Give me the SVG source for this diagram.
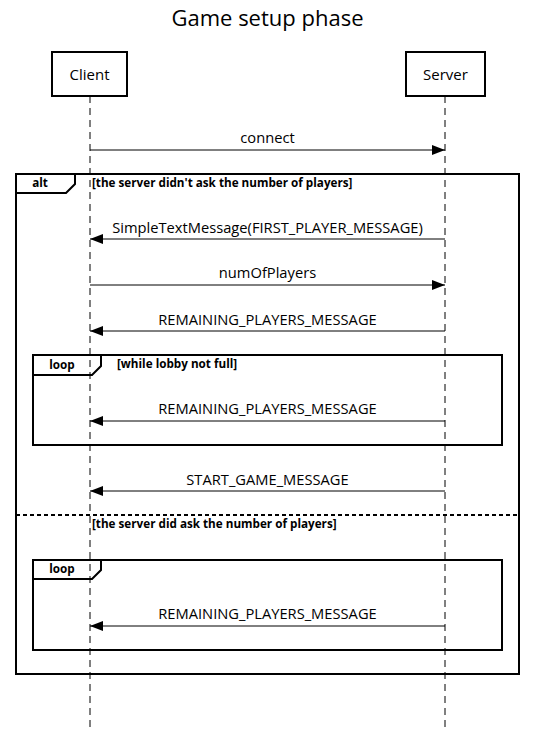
<svg xmlns="http://www.w3.org/2000/svg" width="535" height="731" viewBox="0 0 535 731">
<style>
.t{font-family:"Open Sans","Noto Sans","DejaVu Sans",sans-serif;fill:#000}
.lbl{font-size:14.7px;text-anchor:middle}
.cond{font-size:11.7px;font-weight:bold}
.fr{fill:none;stroke:#000;stroke-width:2}
.msg{stroke:#000;stroke-width:1;fill:none}
.life{stroke:#000;stroke-width:1;stroke-dasharray:7,5}
</style>
<defs>
<marker id="ah" markerWidth="13" markerHeight="10" refX="13" refY="5" orient="auto" markerUnits="userSpaceOnUse">
<path d="M0,0 L13,5 L0,10 Z" fill="#000"/>
</marker>
</defs>
<rect width="535" height="731" fill="#fff"/>
<text class="t" x="267.5" y="26" font-size="22" text-anchor="middle">Game setup phase</text>
<g id="lifelines">
<line class="life" x1="90" y1="96" x2="90" y2="731"/>
<line class="life" x1="445" y1="96" x2="445" y2="731"/>
</g>
<g id="client">
<rect x="52" y="52" width="75" height="44" fill="#fff" stroke="#000" stroke-width="2"/>
<text class="t" x="89.5" y="80" font-size="15" text-anchor="middle">Client</text>
</g>
<g id="server">
<rect x="406" y="52" width="79" height="44" fill="#fff" stroke="#000" stroke-width="2"/>
<text class="t" x="445.5" y="80" font-size="15" text-anchor="middle">Server</text>
</g>
<g id="alt-frame">
<rect class="fr" x="16" y="174" width="503" height="500"/>
<path class="fr" d="M16,193 H66 L75,184 V174"/>
<text class="t cond" x="40" y="187" text-anchor="middle">alt</text>
<text class="t cond" x="92" y="187">[the server didn't ask the number of players]</text>
<line x1="16" y1="515" x2="519" y2="515" stroke="#000" stroke-width="2" stroke-dasharray="4,3"/>
<text class="t cond" x="92" y="528">[the server did ask the number of players]</text>
</g>
<g id="loop1">
<rect class="fr" x="33" y="355" width="469" height="90"/>
<path class="fr" d="M33,375 H92 L101,366 V355"/>
<text class="t cond" x="62" y="369" text-anchor="middle">loop</text>
<text class="t cond" x="117" y="368">[while lobby not full]</text>
</g>
<g id="loop2">
<rect class="fr" x="33" y="560" width="469" height="90"/>
<path class="fr" d="M33,579 H92 L101,570 V560"/>
<text class="t cond" x="62" y="573" text-anchor="middle">loop</text>
</g>
<g id="connectors">
<line class="msg" x1="90" y1="150" x2="445" y2="150" marker-end="url(#ah)"/>
<text class="t lbl" x="267.5" y="143">connect</text>
<line class="msg" x1="445" y1="239" x2="90" y2="239" marker-end="url(#ah)"/>
<text class="t lbl" x="267.5" y="233">SimpleTextMessage(FIRST_PLAYER_MESSAGE)</text>
<line class="msg" x1="90" y1="285" x2="445" y2="285" marker-end="url(#ah)"/>
<text class="t lbl" x="267.5" y="278">numOfPlayers</text>
<line class="msg" x1="445" y1="331" x2="90" y2="331" marker-end="url(#ah)"/>
<text class="t lbl" x="267.5" y="325">REMAINING_PLAYERS_MESSAGE</text>
<line class="msg" x1="445" y1="421" x2="90" y2="421" marker-end="url(#ah)"/>
<text class="t lbl" x="267.5" y="414">REMAINING_PLAYERS_MESSAGE</text>
<line class="msg" x1="445" y1="491" x2="90" y2="491" marker-end="url(#ah)"/>
<text class="t lbl" x="267.5" y="485">START_GAME_MESSAGE</text>
<line class="msg" x1="445" y1="626" x2="90" y2="626" marker-end="url(#ah)"/>
<text class="t lbl" x="267.5" y="619">REMAINING_PLAYERS_MESSAGE</text>
</g>
</svg>
